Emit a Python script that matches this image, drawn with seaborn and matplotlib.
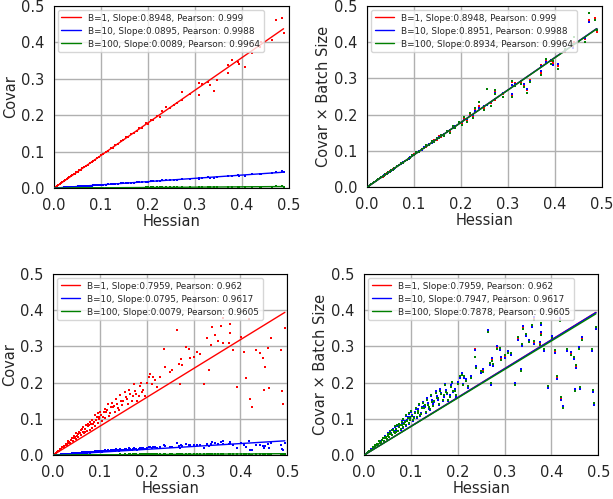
import numpy as np
import pandas as pd
import matplotlib
matplotlib.use("Agg")
import matplotlib.pyplot as plt
import seaborn as sns

# batch sizes and colours
BATCH = [1, 10, 100]
COLORS = ["#ff0000", "#0000ff", "#008000"]

# === top row: hessian diagonal vs covariance ===
H_TOP = [0.003, 0.006, 0.009, 0.012, 0.015, 0.018, 0.021, 0.024, 0.027, 0.030,
         0.033, 0.036, 0.039, 0.042, 0.045, 0.048, 0.051, 0.054, 0.057, 0.060,
         0.064, 0.068, 0.072, 0.076, 0.080, 0.084, 0.088, 0.092, 0.096, 0.100,
         0.105, 0.110, 0.116, 0.121, 0.126, 0.131, 0.137, 0.142, 0.148, 0.153,
         0.158, 0.164, 0.170, 0.176, 0.182, 0.188, 0.195, 0.201, 0.207, 0.212,
         0.219, 0.226, 0.230, 0.239, 0.248, 0.255, 0.263, 0.273, 0.273, 0.290,
         0.308, 0.309, 0.315, 0.328, 0.333, 0.340, 0.347, 0.370, 0.370, 0.380,
         0.391, 0.395, 0.406, 0.421, 0.439, 0.441, 0.464, 0.473, 0.485, 0.489]
# covar x batch size
CB1_TOP = [0.0028, 0.0055, 0.0080, 0.0109, 0.0133, 0.0163, 0.0187, 0.0216, 0.0240, 0.0271,
           0.0293, 0.0325, 0.0347, 0.0378, 0.0400, 0.0432, 0.0454, 0.0487, 0.0508, 0.0541,
           0.0570, 0.0612, 0.0641, 0.0685, 0.0712, 0.0758, 0.0785, 0.0830, 0.0856, 0.0905,
           0.0930, 0.1000, 0.1020, 0.1115, 0.1110, 0.1195, 0.1210, 0.1300, 0.1310, 0.1405,
           0.1395, 0.1480, 0.1525, 0.1560, 0.1650, 0.1660, 0.1780, 0.1770, 0.1880, 0.1860,
           0.1990, 0.1960, 0.2130, 0.2230, 0.2190, 0.2280, 0.2330, 0.2640, 0.2410, 0.2580,
           0.2890, 0.2550, 0.2870, 0.2900, 0.2830, 0.2670, 0.2960, 0.3380, 0.3160, 0.3510,
           0.3470, 0.3420, 0.3330, 0.3720, 0.3880, 0.4000, 0.4080, 0.4610, 0.4660, 0.4270]
CB10_TOP = [0.0027, 0.0056, 0.0081, 0.0108, 0.0135, 0.0161, 0.0189, 0.0214, 0.0243, 0.0268,
            0.0296, 0.0322, 0.0349, 0.0375, 0.0403, 0.0429, 0.0457, 0.0484, 0.0511, 0.0538,
            0.0574, 0.0608, 0.0645, 0.0680, 0.0716, 0.0752, 0.0790, 0.0822, 0.0862, 0.0898,
            0.0938, 0.0990, 0.1030, 0.1100, 0.1125, 0.1180, 0.1225, 0.1285, 0.1320, 0.1385,
            0.1410, 0.1465, 0.1530, 0.1570, 0.1635, 0.1675, 0.1760, 0.1790, 0.1860, 0.1890,
            0.1965, 0.1990, 0.2100, 0.2190, 0.2230, 0.2270, 0.2360, 0.2590, 0.2430, 0.2600,
            0.2820, 0.2580, 0.2840, 0.2920, 0.2860, 0.2700, 0.2940, 0.3330, 0.3200, 0.3460,
            0.3500, 0.3380, 0.3400, 0.3750, 0.3850, 0.3960, 0.4120, 0.4560, 0.4620, 0.4330]
CB100_TOP = [0.0028, 0.0054, 0.0082, 0.0108, 0.0136, 0.0160, 0.0190, 0.0213, 0.0245, 0.0266,
             0.0300, 0.0318, 0.0352, 0.0372, 0.0405, 0.0425, 0.0462, 0.0480, 0.0515, 0.0535,
             0.0580, 0.0600, 0.0655, 0.0670, 0.0725, 0.0745, 0.0800, 0.0815, 0.0875, 0.0885,
             0.0960, 0.0975, 0.1060, 0.1080, 0.1150, 0.1160, 0.1260, 0.1250, 0.1360, 0.1350,
             0.1450, 0.1420, 0.1560, 0.1500, 0.1690, 0.1620, 0.1810, 0.1720, 0.1930, 0.1800,
             0.2050, 0.1900, 0.2180, 0.2350, 0.2120, 0.2700, 0.2250, 0.2680, 0.2560, 0.2500,
             0.2920, 0.2480, 0.2800, 0.2850, 0.2760, 0.2600, 0.2900, 0.3320, 0.3100, 0.3530,
             0.3400, 0.3470, 0.3250, 0.3800, 0.3950, 0.4150, 0.4000, 0.4800, 0.4600, 0.4350]
SLOPE_TOP = [0.8948, 0.0895, 0.0089]
SLOPE_TOP_SCALED = [0.8948, 0.8951, 0.8934]
PEARSON_TOP = [0.999, 0.9988, 0.9964]

# === bottom row ===
H_BOT = [0.003, 0.006, 0.009, 0.012, 0.015, 0.018, 0.021, 0.024, 0.027, 0.030,
         0.033, 0.036, 0.039, 0.042, 0.045, 0.048, 0.051, 0.054, 0.057, 0.060,
         0.063, 0.066, 0.069, 0.072, 0.075, 0.078, 0.081, 0.084, 0.087, 0.090,
         0.093, 0.096, 0.099, 0.102, 0.105, 0.108, 0.112, 0.116, 0.120, 0.124,
         0.128, 0.132, 0.136, 0.140, 0.145, 0.150, 0.155, 0.160, 0.165, 0.170,
         0.175, 0.180, 0.185, 0.190, 0.196, 0.200, 0.208, 0.214, 0.218, 0.222,
         0.229, 0.236, 0.239, 0.250, 0.254, 0.264, 0.268, 0.271, 0.274, 0.276,
         0.284, 0.291, 0.293, 0.300, 0.307, 0.313, 0.323, 0.328, 0.334, 0.337,
         0.339, 0.345, 0.353, 0.359, 0.363, 0.363, 0.376, 0.377, 0.378, 0.385,
         0.392, 0.401, 0.408, 0.411, 0.419, 0.421, 0.425, 0.434, 0.442, 0.448,
         0.451, 0.453, 0.458, 0.462, 0.465, 0.486, 0.489, 0.491, 0.495,
         0.010, 0.014, 0.019, 0.023, 0.028, 0.032, 0.035, 0.040, 0.044, 0.047,
         0.050, 0.053, 0.056, 0.059, 0.062, 0.065, 0.068, 0.071, 0.074, 0.077,
         0.080, 0.083, 0.086, 0.089, 0.092, 0.095, 0.098, 0.101, 0.106, 0.110,
         0.114, 0.118, 0.122, 0.126, 0.130, 0.134, 0.138, 0.143, 0.148, 0.153,
         0.158, 0.163, 0.168, 0.173, 0.178, 0.183, 0.188, 0.193, 0.205, 0.212]
CB1_BOT = [0.0030, 0.0058, 0.0092, 0.0118, 0.0155, 0.0176, 0.0218, 0.0232, 0.0281, 0.0290,
           0.0345, 0.0340, 0.0410, 0.0395, 0.0470, 0.0445, 0.0540, 0.0500, 0.0600, 0.0555,
           0.0650, 0.0610, 0.0720, 0.0660, 0.0790, 0.0700, 0.0850, 0.0760, 0.0920, 0.0810,
           0.1050, 0.0880, 0.1000, 0.1100, 0.0950, 0.1180, 0.1030, 0.1250, 0.1080, 0.1320,
           0.1330, 0.1180, 0.1420, 0.1250, 0.1500, 0.1480, 0.1600, 0.1400, 0.1700, 0.1620,
           0.1780, 0.1500, 0.1900, 0.1750, 0.1620, 0.2000, 0.2240, 0.2150, 0.2070, 0.1870,
           0.2160, 0.2920, 0.2440, 0.2300, 0.2340, 0.3440, 0.2510, 0.1960, 0.2650, 0.2490,
           0.2980, 0.2920, 0.2670, 0.2720, 0.2850, 0.2790, 0.1960, 0.3220, 0.2350, 0.3040,
           0.3530, 0.3310, 0.3160, 0.3560, 0.3790, 0.3100, 0.3090, 0.3610, 0.3360, 0.2900,
           0.1890, 0.3260, 0.2850, 0.2140, 0.3760, 0.1550, 0.1320, 0.2900, 0.2810, 0.2670,
           0.1800, 0.2440, 0.2960, 0.1860, 0.3220, 0.2900, 0.1770, 0.1400, 0.3500,
           0.0115, 0.0150, 0.0225, 0.0262, 0.0310, 0.0380, 0.0372, 0.0465, 0.0520, 0.0500,
           0.0600, 0.0575, 0.0650, 0.0690, 0.0710, 0.0780, 0.0650, 0.0820, 0.0860, 0.0830,
           0.0920, 0.0980, 0.0870, 0.1100, 0.0960, 0.1150, 0.1050, 0.1200, 0.1050, 0.1280,
           0.1180, 0.1400, 0.1150, 0.1450, 0.1350, 0.1550, 0.1300, 0.1650, 0.1380, 0.1750,
           0.1550, 0.1800, 0.1500, 0.1950, 0.1700, 0.1620, 0.2000, 0.1800, 0.2150, 0.1950]
CB10_BOT = [0.0031, 0.0057, 0.0093, 0.0116, 0.0157, 0.0174, 0.0220, 0.0230, 0.0284, 0.0287,
            0.0348, 0.0337, 0.0414, 0.0391, 0.0475, 0.0440, 0.0545, 0.0495, 0.0606, 0.0549,
            0.0657, 0.0603, 0.0728, 0.0652, 0.0798, 0.0692, 0.0860, 0.0750, 0.0930, 0.0800,
            0.1062, 0.0870, 0.1012, 0.1112, 0.0938, 0.1195, 0.1018, 0.1265, 0.1068, 0.1335,
            0.1345, 0.1165, 0.1440, 0.1235, 0.1520, 0.1465, 0.1620, 0.1385, 0.1720, 0.1600,
            0.1800, 0.1480, 0.1925, 0.1730, 0.1600, 0.2025, 0.2265, 0.2125, 0.2095, 0.1850,
            0.2185, 0.2890, 0.2470, 0.2270, 0.2370, 0.3450, 0.2480, 0.1940, 0.2680, 0.2460,
            0.3010, 0.2890, 0.2700, 0.2690, 0.2880, 0.2760, 0.1990, 0.3190, 0.2380, 0.3010,
            0.3560, 0.3280, 0.3190, 0.3530, 0.3820, 0.3070, 0.3120, 0.3580, 0.3390, 0.2870,
            0.1860, 0.3290, 0.2820, 0.2110, 0.3790, 0.1520, 0.1350, 0.2870, 0.2840, 0.2640,
            0.1830, 0.2410, 0.2990, 0.1830, 0.3250, 0.2870, 0.1740, 0.1370, 0.3470,
            0.0117, 0.0148, 0.0228, 0.0258, 0.0314, 0.0376, 0.0377, 0.0460, 0.0526, 0.0494,
            0.0607, 0.0569, 0.0657, 0.0683, 0.0718, 0.0772, 0.0660, 0.0812, 0.0870, 0.0822,
            0.0930, 0.0970, 0.0880, 0.1090, 0.0972, 0.1140, 0.1062, 0.1188, 0.1065, 0.1268,
            0.1195, 0.1385, 0.1165, 0.1465, 0.1335, 0.1570, 0.1285, 0.1635, 0.1400, 0.1770,
            0.1530, 0.1820, 0.1480, 0.1970, 0.1680, 0.1645, 0.1980, 0.1825, 0.2130, 0.1975]
CB100_BOT = [0.0029, 0.0059, 0.0090, 0.0120, 0.0152, 0.0179, 0.0214, 0.0236, 0.0276, 0.0294,
             0.0340, 0.0345, 0.0403, 0.0400, 0.0462, 0.0452, 0.0530, 0.0508, 0.0590, 0.0563,
             0.0640, 0.0620, 0.0708, 0.0672, 0.0775, 0.0712, 0.0835, 0.0775, 0.0905, 0.0825,
             0.1030, 0.0895, 0.0980, 0.1080, 0.0965, 0.1160, 0.1045, 0.1230, 0.1095, 0.1300,
             0.1310, 0.1200, 0.1395, 0.1270, 0.1475, 0.1500, 0.1575, 0.1420, 0.1675, 0.1645,
             0.1750, 0.1525, 0.1870, 0.1775, 0.1645, 0.1965, 0.2200, 0.2180, 0.2040, 0.1900,
             0.2125, 0.2700, 0.2400, 0.2330, 0.2300, 0.3400, 0.2540, 0.1985, 0.2610, 0.2520,
             0.2940, 0.2960, 0.2630, 0.2750, 0.2810, 0.2830, 0.1930, 0.3260, 0.2310, 0.3080,
             0.3490, 0.3350, 0.3120, 0.3600, 0.3740, 0.3140, 0.3050, 0.3650, 0.3320, 0.2940,
             0.1920, 0.3220, 0.2890, 0.2170, 0.3710, 0.1590, 0.1290, 0.2940, 0.2770, 0.2710,
             0.1770, 0.2480, 0.2920, 0.1890, 0.3180, 0.2940, 0.1800, 0.1430, 0.3530,
             0.0112, 0.0153, 0.0220, 0.0266, 0.0305, 0.0385, 0.0366, 0.0472, 0.0512, 0.0508,
             0.0590, 0.0584, 0.0640, 0.0700, 0.0700, 0.0792, 0.0640, 0.0832, 0.0848, 0.0840,
             0.0905, 0.0995, 0.0858, 0.1115, 0.0945, 0.1165, 0.1035, 0.1220, 0.1035, 0.1295,
             0.1165, 0.1420, 0.1135, 0.1430, 0.1370, 0.1530, 0.1320, 0.1670, 0.1360, 0.1725,
             0.1570, 0.1780, 0.1525, 0.1925, 0.1720, 0.1600, 0.2025, 0.1775, 0.2175, 0.1925]
SLOPE_BOT = [0.7959, 0.0795, 0.0079]
SLOPE_BOT_SCALED = [0.7959, 0.7947, 0.7878]
PEARSON_BOT = [0.962, 0.9617, 0.9605]

sns.set_style("whitegrid", {"axes.edgecolor": "black", "grid.color": "#b0b0b0",
                            "axes.linewidth": 1.0})
plt.rcParams["font.family"] = ["DejaVu Sans"]

fig = plt.figure(figsize=(6.13, 4.99), dpi=100)
positions = {
    (0, 0): [0.088, 0.623, 0.383, 0.365],
    (0, 1): [0.599, 0.625, 0.383, 0.363],
    (1, 0): [0.0865, 0.088, 0.382, 0.363],
    (1, 1): [0.594, 0.088, 0.382, 0.363],
}


def make_frame(h, cb_lists):
    rows = []
    for b, cb in zip(BATCH, cb_lists):
        rows.append(pd.DataFrame({"hessian": h, "scaled": cb, "batch": b}))
    df = pd.concat(rows, ignore_index=True)
    df["covar"] = df["scaled"] / df["batch"]
    return df


def draw_panel(ax, df, ycol, slopes, pearsons, ylabel):
    for b, c in zip(BATCH, COLORS):
        sub = df[df["batch"] == b]
        sns.scatterplot(data=sub, x="hessian", y=ycol, color=c, s=3,
                        linewidth=0, marker="s", ax=ax, legend=False, zorder=2)
    xmax = df["hessian"].max()
    for b, c, s, p in zip(BATCH, COLORS, slopes, pearsons):
        line = pd.DataFrame({"x": [0.0, xmax], "y": [0.0, s * xmax]})
        sns.lineplot(data=line, x="x", y="y", color=c, lw=1.0, ax=ax,
                     label=f"B={b}, Slope:{s}, Pearson: {p}", zorder=3)
    ax.set_xlim(0, 0.5)
    ax.set_ylim(0, 0.5)
    ticks = [0.0, 0.1, 0.2, 0.3, 0.4, 0.5]
    ax.set_xticks(ticks)
    ax.set_yticks(ticks)
    ax.tick_params(labelsize=10.5, pad=3.5)
    ax.set_xlabel("Hessian", fontsize=10.5, labelpad=1)
    ax.set_ylabel(ylabel, fontsize=10.5, labelpad=2)
    ax.grid(True, lw=1.0)
    ax.legend(loc="upper left", fontsize=6.4, frameon=True, handlelength=2.2,
              borderaxespad=0.45, labelspacing=0.45)


for row, (h, cbs, sl, sl_sc, pr) in enumerate([
        (H_TOP, [CB1_TOP, CB10_TOP, CB100_TOP], SLOPE_TOP, SLOPE_TOP_SCALED, PEARSON_TOP),
        (H_BOT, [CB1_BOT, CB10_BOT, CB100_BOT], SLOPE_BOT, SLOPE_BOT_SCALED, PEARSON_BOT)]):
    df = make_frame(h, cbs)
    ax_l = fig.add_axes(positions[(row, 0)])
    draw_panel(ax_l, df, "covar", sl, pr, "Covar")
    ax_r = fig.add_axes(positions[(row, 1)])
    draw_panel(ax_r, df, "scaled", sl_sc, pr, "Covar × Batch Size")

fig.savefig("out.png", dpi=100)
plt.close(fig)
